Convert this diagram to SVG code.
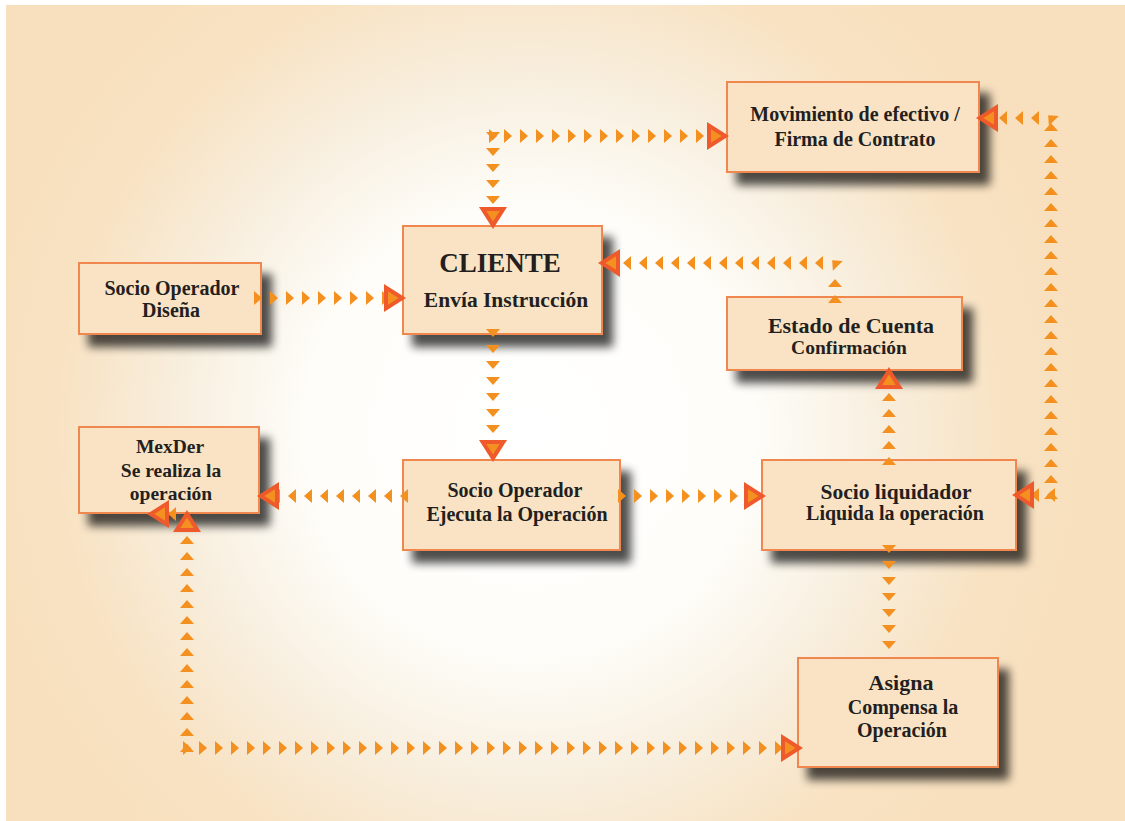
<svg xmlns="http://www.w3.org/2000/svg" width="1125" height="821" viewBox="0 0 1125 821">
<defs>
<radialGradient id="bg" gradientUnits="userSpaceOnUse" cx="530" cy="430" r="560">
<stop offset="0" stop-color="#FFFFFF"/>
<stop offset="0.4" stop-color="#FEFDF9"/>
<stop offset="0.62" stop-color="#F8EFDF"/>
<stop offset="0.85" stop-color="#F8E2C2"/>
<stop offset="1" stop-color="#F8E0BE"/>
</radialGradient>
<filter id="sh" x="-20%" y="-20%" width="150%" height="170%">
<feGaussianBlur in="SourceAlpha" stdDeviation="5"/>
<feOffset dx="10" dy="12" result="o"/>
<feComponentTransfer><feFuncA type="linear" slope="0.7"/></feComponentTransfer>
<feMerge><feMergeNode/><feMergeNode in="SourceGraphic"/></feMerge>
</filter>
<marker id="s" markerUnits="userSpaceOnUse" markerWidth="16" markerHeight="16" refX="0" refY="0" orient="auto" style="overflow:visible">
<path d="M-4,-7 L4,0 L-4,7 Z" fill="#F39020"/>
</marker>
<marker id="b" markerUnits="userSpaceOnUse" markerWidth="30" markerHeight="30" refX="0" refY="0" orient="auto" style="overflow:visible">
<path d="M0,0 L-22,-14 L-22,14 Z" fill="#EE5A2B"/>
<path d="M-7.4,0 L-18,-6.7 L-18,6.7 Z" fill="#F39020"/>
</marker>
<style>
.box{fill:#FAE3C4;stroke:#F0874F;stroke-width:2;filter:url(#sh)}
.t{font-family:"Liberation Serif","Times New Roman",serif;font-weight:bold;fill:#231F20;text-anchor:middle}
.c{fill:none;stroke:none;marker-start:url(#s);marker-mid:url(#s);marker-end:url(#b)}
.cs{fill:none;stroke:none;marker-start:url(#s);marker-mid:url(#s);marker-end:url(#s)}
</style>
</defs>
<rect x="6" y="5" width="1119" height="816" fill="url(#bg)"/>

<g id="node-movimiento">
<rect class="box" x="727" y="82" width="252" height="90"/>
<text class="t" x="855" y="121" font-size="20">Movimiento de efectivo /</text>
<text class="t" x="855" y="146" font-size="20">Firma de Contrato</text>
</g>
<g id="node-cliente">
<rect class="box" x="403" y="226" width="199" height="108"/>
<text class="t" x="500" y="272" font-size="27">CLIENTE</text>
<text class="t" x="506" y="307" font-size="21.5">Envía Instrucción</text>
</g>
<g id="node-disena">
<rect class="box" x="79" y="263" width="182" height="71"/>
<text class="t" x="172" y="295" font-size="20">Socio Operador</text>
<text class="t" x="171" y="317" font-size="20">Diseña</text>
</g>
<g id="node-estado">
<rect class="box" x="727" y="297" width="235" height="73"/>
<text class="t" x="851" y="333" font-size="22">Estado de Cuenta</text>
<text class="t" x="849" y="354" font-size="19.5">Confirmación</text>
</g>
<g id="node-mexder">
<rect class="box" x="79" y="427" width="180" height="86"/>
<text class="t" x="170" y="453" font-size="19.5">MexDer</text>
<text class="t" x="171" y="477" font-size="19.5">Se realiza la</text>
<text class="t" x="171" y="500" font-size="19.5">operación</text>
</g>
<g id="node-ejecuta">
<rect class="box" x="403" y="460" width="217" height="90"/>
<text class="t" x="515" y="497" font-size="20">Socio Operador</text>
<text class="t" x="517" y="521" font-size="20">Ejecuta la Operación</text>
</g>
<g id="node-liquidador">
<rect class="box" x="762" y="460" width="254" height="90"/>
<text class="t" x="896" y="499" font-size="21.5">Socio liquidador</text>
<text class="t" x="895" y="520" font-size="20">Liquida la operación</text>
</g>
<g id="node-asigna">
<rect class="box" x="798" y="658" width="200" height="109"/>
<text class="t" x="901" y="690" font-size="22">Asigna</text>
<text class="t" x="903" y="714" font-size="20">Compensa la</text>
<text class="t" x="902" y="737" font-size="20">Operación</text>
</g>

<g id="connectors">
<path class="c" d="M493,136 h15 h16 h16 h16 h16 h16 h16 h16 h16 h16 h16 h16 h16 h29"/>
<path class="c" d="M493,136 v16 v16 v16 v16 v29"/>
<path class="c" d="M258,298 h16 h16 h16 h16 h16 h16 h16 h16 h20"/>
<path class="c" d="M493,333 v16 v16 v16 v16 v16 v16 v33"/>
<path class="c" d="M404,496 h-16 h-16 h-16 h-16 h-16 h-16 h-16 h-16 h-19"/>
<path class="c" d="M622,496 h16 h16 h16 h16 h16 h16 h16 h14 h18"/>
<path class="c" d="M889,461 v-16 v-16 v-16 v-16 v-30"/>
<path class="c" d="M835,299 v-16 v-20 h-16 h-16 h-16 h-16 h-16 h-16 h-16 h-16 h-16 h-16 h-16 h-16 h-16 h-29"/>
<path class="cs" d="M889,549 v16 v16 v16 v16 v16 v16"/>
<path class="c" d="M1051,495 v-16 v-16 v-16 v-16 v-16 v-16 v-16 v-16 v-16 v-16 v-16 v-16 v-16 v-16 v-16 v-16 v-16 v-16 v-16 v-16 v-16 v-16 v-16 v-9 h-16 h-16 h-16 h-27"/>
<path class="c" d="M1051,495 h-16 h-23"/>
<path class="c" d="M187,748 v-16 v-16 v-16 v-16 v-16 v-16 v-16 v-16 v-16 v-16 v-16 v-16 v-16 v-30"/>
<path class="c" d="M187,748 h16 h16 h16 h16 h16 h16 h16 h16 h16 h16 h16 h16 h16 h16 h16 h16 h16 h16 h16 h16 h16 h16 h16 h16 h16 h16 h16 h16 h16 h16 h16 h16 h16 h16 h16 h16 h16 h24"/>
<path class="c" d="M172,514 h-25"/>
</g>
</svg>
